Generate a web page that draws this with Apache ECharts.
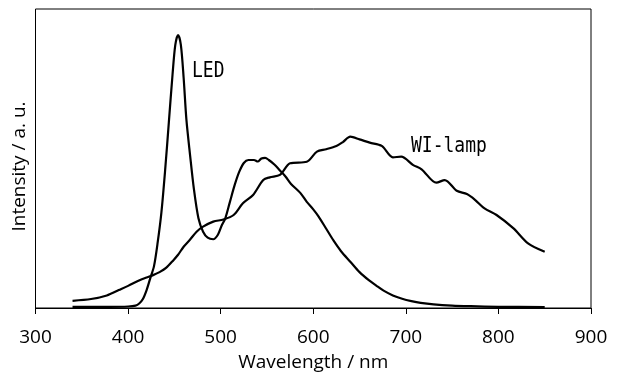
<!DOCTYPE html>
<html>
<head>
<meta charset="utf-8">
<script src="https://cdn.jsdelivr.net/npm/echarts@6/dist/echarts.min.js"></script>
<style>html,body{margin:0;padding:0;background:#fff}#c{width:620px;height:374px}</style>
</head>
<body>
<div id="c"></div>
<script>
// Wavelength (nm) / intensity (a.u.) pairs
const ledWavelength = [340,380,400,408,412,416,420,424,428,432,436,440,444,448,451,454,457,460,463,467,471,476,481,486,492,497,501,505,510,515,520,525,530,536,540,544,548,552,558,564,570,576,586,593,600,606,614,622,630,640,650,660,668,676,686,696,706,716,730,750,770,800,850];
const ledIntensity  = [0.4,0.4,0.5,0.8,1.5,3,6,10,14,22,32,46,62,78,88,91.3,88,77,63,51,40,30,25.5,23.5,23,24.5,27.5,30,35.5,41,45.5,48.5,49.5,49.5,49,50,50.2,49.5,48,46,44,41.5,38.5,35.5,33,30.5,26.5,22.5,19,15.5,12,9.3,7.5,5.8,4.2,3.1,2.3,1.7,1.2,0.8,0.6,0.4,0.3];

const lampWavelength = [340,360,377,390,400,413,420,427,434,441,449,454,460,467,474,481,492,503,514,524,535,546,553,564,575,593,604,614,625,632,640,650,661,674,686,695,708,717,733,742,755,766,775,785,798,816,832,850];
const lampIntensity  = [2.4,3,4.2,6,7.4,9.4,10.2,11,12,13.4,16,17.8,20.5,22.9,25.5,27.2,28.9,29.6,31.1,35,37.8,42.8,43.7,44.5,48.4,48.9,52.3,53.1,54.2,55.5,57.3,56.4,55.3,54.2,50.4,50.6,47.8,46.4,41.9,42.8,39.2,38.1,36.1,33.3,31.1,26.7,21.6,18.8];

const xTicks = {min: 300, max: 900, interval: 100};
const seriesNames = ['LED', 'WI-lamp'];

const pairs = (xs, ys) => xs.map((x, i) => [x, ys[i]]);

const chart = echarts.init(document.getElementById('c'), null, {renderer: 'canvas'});
chart.setOption({
  animation: false,
  backgroundColor: '#fff',
  grid: {left: 35.5, right: 29, top: 9, bottom: 66, show: true, borderColor: '#000', borderWidth: 1,
         containLabel: false, outerBoundsMode: 'none'},
  xAxis: {
    type: 'value', min: xTicks.min, max: xTicks.max, interval: xTicks.interval,
    name: 'Wavelength / nm', nameLocation: 'middle', nameGap: 45,
    nameTextStyle: {fontFamily: 'Open Sans', fontSize: 19, color: '#000'},
    axisLine: {show: true, lineStyle: {color: '#000', width: 1}},
    axisTick: {show: true, length: 6, lineStyle: {color: '#000'}},
    axisLabel: {fontFamily: 'Open Sans', fontSize: 19, color: '#000', margin: 20},
    splitLine: {show: false}
  },
  yAxis: {
    type: 'value', min: 0, max: 100,
    name: 'Intensity / a. u.', nameLocation: 'middle', nameGap: 6, nameRotate: 90,
    nameTextStyle: {fontFamily: 'Open Sans', fontSize: 19, color: '#000', padding: [0, 16, 0, 0]},
    axisLine: {show: false}, axisTick: {show: false}, axisLabel: {show: false},
    splitLine: {show: false}
  },
  series: [
    {name: seriesNames[0], type: 'line', data: pairs(ledWavelength, ledIntensity), smooth: 0.3, showSymbol: false,
     lineStyle: {color: '#000', width: 2.2}},
    {name: seriesNames[1], type: 'line', data: pairs(lampWavelength, lampIntensity), smooth: 0.3, showSymbol: false,
     lineStyle: {color: '#000', width: 2.2}}
  ],
  graphic: [
    {type: 'text', left: 192, top: 61, scaleY: 1.2,
     style: {text: seriesNames[0], font: '18px "DejaVu Sans Mono"', fill: '#000'}},
    {type: 'text', left: 411, top: 136, scaleY: 1.2,
     style: {text: seriesNames[1], font: '18px "DejaVu Sans Mono"', fill: '#000'}}
  ]
});
</script>
</body>
</html>
